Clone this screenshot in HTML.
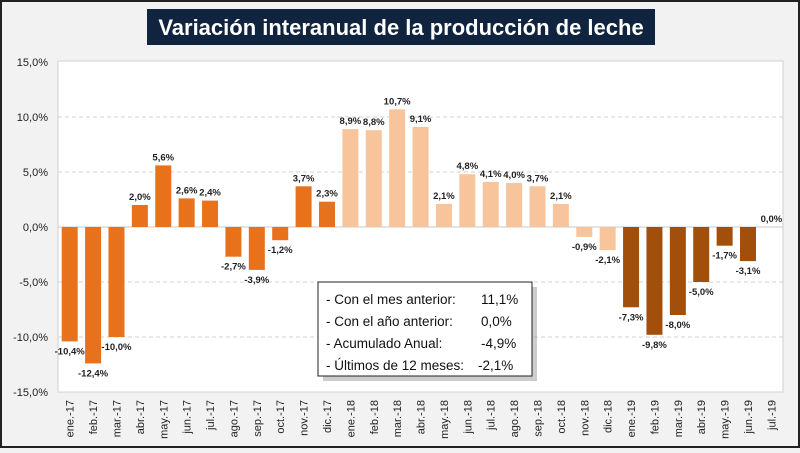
<!DOCTYPE html><html><head><meta charset="utf-8"><style>
body{margin:0;width:800px;height:448px;overflow:hidden;background:#f2f2f2;font-family:"Liberation Sans",sans-serif}
</style></head><body>
<svg width="800" height="448" xmlns="http://www.w3.org/2000/svg" font-family="Liberation Sans, sans-serif">
<rect x="1" y="1" width="798" height="446" fill="#f2f2f2" stroke="#222" stroke-width="2"/>
<rect x="147" y="9" width="508" height="36" fill="#10243f"/>
<text x="401" y="35" text-anchor="middle" fill="#fff" font-size="22" font-weight="bold">Variación interanual de la producción de leche</text>
<rect x="58" y="61" width="725" height="331" fill="#fff" stroke="#d0d0d0"/>
<g stroke="#d0d0d0" stroke-dasharray="4,3">
<line x1="58" x2="783" y1="117" y2="117"/><line x1="58" x2="783" y1="172" y2="172"/><line x1="58" x2="783" y1="282" y2="282"/><line x1="58" x2="783" y1="337" y2="337"/></g>
<line x1="58" x2="783" y1="227" y2="227" stroke="#c8c8c8"/>
<g font-size="11" fill="#222" text-anchor="end">
<text x="48" y="66">15,0%</text><text x="48" y="121">10,0%</text><text x="48" y="176">5,0%</text><text x="48" y="231">0,0%</text><text x="48" y="286">-5,0%</text><text x="48" y="341">-10,0%</text><text x="48" y="396">-15,0%</text></g>
<g id="bars"></g>
<g transform="translate(5,5)"><rect x="318" y="282" width="214" height="94" fill="#999" opacity="0.5"/></g>
<rect x="318" y="282" width="214" height="94" fill="#fff" stroke="#222"/>
<g font-size="13.5" fill="#111">
<text x="326" y="304">- Con el mes anterior:</text><text x="481" y="304">11,1%</text>
<text x="326" y="326">- Con el año anterior:</text><text x="481" y="326">0,0%</text>
<text x="326" y="348">- Acumulado Anual:</text><text x="481" y="348">-4,9%</text>
<text x="326" y="370">- Últimos de 12 meses:</text><text x="478" y="370">-2,1%</text></g>
</svg>
<script>
const v=[-10.4,-12.4,-10.0,2.0,5.6,2.6,2.4,-2.7,-3.9,-1.2,3.7,2.3,8.9,8.8,10.7,9.1,2.1,4.8,4.1,4.0,3.7,2.1,-0.9,-2.1,-7.3,-9.8,-8.0,-5.0,-1.7,-3.1,0.0];
const m=["ene.","feb.","mar.","abr.","may.","jun.","jul.","ago.","sep.","oct.","nov.","dic."];
const g=document.getElementById('bars');let s='';
v.forEach((d,i)=>{const cx=58+23.39*(i+0.5);const c=i<12?'#e8711c':i<24?'#f8c49b':'#a24f0c';
const y0=227,y=227-d*11;const top=Math.min(y0,y),h=Math.abs(y-y0);
if(d!==0)s+=`<rect x="${cx-8}" y="${top}" width="16" height="${h}" fill="${c}"/>`;
const lab=d.toFixed(1).replace('.',',')+'%';const ly=d>=0?y-5:y+13;
s+=`<text x="${cx}" y="${ly}" text-anchor="middle" font-size="9.5" font-weight="bold" fill="#222">${lab}</text>`;
const yr=17+Math.floor(i/12);const t=m[i%12]+'-'+yr;
s+=`<text transform="translate(${cx+4},400) rotate(-90)" text-anchor="end" font-size="11" fill="#222">${t}</text>`;});
g.innerHTML=s;
</script>
</body></html>
